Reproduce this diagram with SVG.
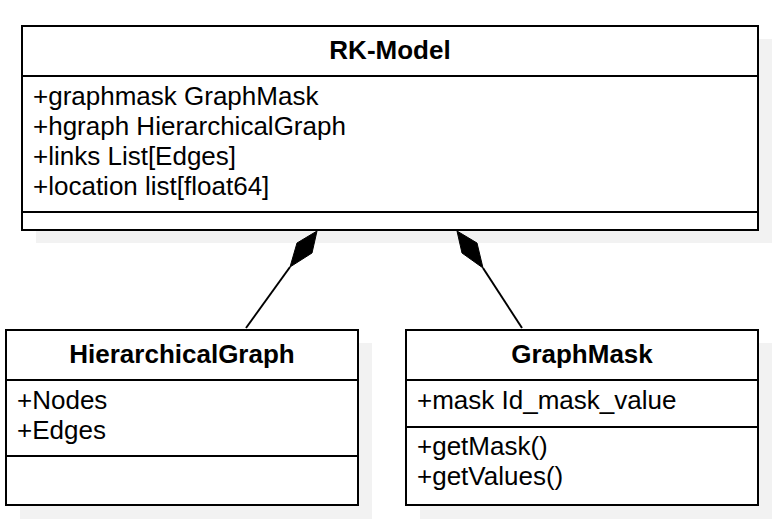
<svg xmlns="http://www.w3.org/2000/svg" width="778" height="522" viewBox="0 0 778 522">
<style>
.shadow{fill:#f2f2f2;stroke:none}
.box{fill:#ffffff;stroke:#000000;stroke-width:2}
.sep{stroke:#000000;stroke-width:2;fill:none}
.title{font-family:"Liberation Sans",Arial,sans-serif;font-size:26px;font-weight:bold;fill:#000;text-anchor:middle}
.attr{font-family:"Liberation Sans",Arial,sans-serif;font-size:26px;fill:#000}
.edge{stroke:#000;stroke-width:2;fill:none}
.dia{fill:#000;stroke:#000;stroke-width:1;stroke-linejoin:miter}
</style>
<rect class="shadow" x="36" y="39" width="736" height="204"/>
<rect class="shadow" x="20" y="343" width="352" height="176"/>
<rect class="shadow" x="420" y="343" width="352" height="176"/>
<g id="rk-model">
<rect class="box" x="22" y="26" width="736" height="204"/>
<line class="sep" x1="22" y1="76" x2="758" y2="76"/>
<line class="sep" x1="22" y1="212" x2="758" y2="212"/>
<text class="title" x="390" y="59">RK-Model</text>
<text class="attr" x="33" y="105">+graphmask GraphMask</text>
<text class="attr" x="33" y="135">+hgraph HierarchicalGraph</text>
<text class="attr" x="33" y="165">+links List[Edges]</text>
<text class="attr" x="33" y="195">+location list[float64]</text>
</g>
<g id="hierarchical-graph">
<rect class="box" x="6" y="330" width="352" height="175"/>
<line class="sep" x1="6" y1="380" x2="358" y2="380"/>
<line class="sep" x1="6" y1="456" x2="358" y2="456"/>
<text class="title" x="182" y="363">HierarchicalGraph</text>
<text class="attr" x="17" y="409">+Nodes</text>
<text class="attr" x="17" y="439">+Edges</text>
</g>
<g id="graph-mask">
<rect class="box" x="406" y="330" width="352" height="175"/>
<line class="sep" x1="406" y1="380" x2="758" y2="380"/>
<line class="sep" x1="406" y1="427" x2="758" y2="427"/>
<text class="title" x="582" y="363">GraphMask</text>
<text class="attr" x="417" y="409">+mask Id_mask_value</text>
<text class="attr" x="417" y="455">+getMask()</text>
<text class="attr" x="417" y="485">+getValues()</text>
</g>
<g id="connectors">
<line class="edge" x1="246" y1="328" x2="290" y2="267"/>
<polygon class="dia" points="317,231 297,243 290,267 312,253"/>
<line class="edge" x1="522" y1="328" x2="483" y2="268"/>
<polygon class="dia" points="457,231 462,253 483,268 477,243"/>
</g>
</svg>
